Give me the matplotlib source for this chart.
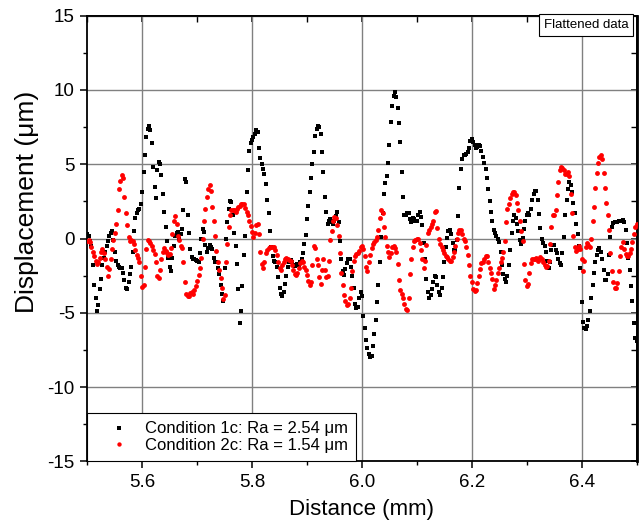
import matplotlib

matplotlib.use("Agg")
import matplotlib.pyplot as plt
import numpy as np
from matplotlib.ticker import MultipleLocator

# sampling positions along the profile (mm), one reading every 0.0025 mm
distance = np.linspace(5.5, 6.5, 401)

# Condition 1c (black squares), displacement in um
cond1 = [
    0.3, 0.2, -0.2, -0.5, -1.8, -3.1, -4.0, -4.9, -4.5, -3.4,
    -2.7, -1.8, -1.3, -0.9, -0.5, -0.2, 0.2, 0.4, 0.5, -0.1,
    -0.9, -1.5, -1.8, -1.9, -1.95, -2.0, -2.3, -2.8, -3.3, -3.4,
    -2.9, -2.4, -1.9, -0.9, 0.5, 1.35, 1.75, 1.9, 2.0, 2.3,
    3.1, 4.5, 5.6, 6.8, 7.4, 7.6, 7.3, 6.4, 4.8, 3.5,
    2.7, 4.6, 5.15, 5.0, 4.3, 3.0, 1.8, 0.8, -0.2, -1.3,
    -1.9, -2.2, -1.3, -0.5, 0.2, 0.35, 0.45, 0.0, 0.3, 0.67,
    1.9, 4.0, 3.8, 1.6, 0.4, -0.7, -1.25, -1.35, -1.4, -1.45,
    -1.5, -1.55, -1.0, 0.0, 0.65, 0.45, -0.45, -0.9, -0.65, -0.45,
    -0.55, -0.7, -1.3, -1.57, -1.6, -2.0, -2.4, -3.1, -3.7, -4.2,
    -2.0, 0.0, 1.1, 2.0, 2.5, 2.45, 1.55, 0.4, -0.5, -1.7,
    -3.4, -5.7, -4.9, -3.2, -1.1, 0.2, 3.1, 4.6, 5.9, 6.45,
    6.6, 6.8, 7.0, 7.3, 7.2, 6.1, 5.4, 5.0, 4.7, 4.35,
    3.7, 2.6, 1.7, 0.5, -0.6, -1.2, -1.5, -1.57, -1.9, -2.6,
    -3.3, -3.75, -3.9, -3.6, -3.05, -2.5, -1.9, -1.55, -1.46, -1.55,
    -1.75, -1.85, -1.8, -1.7, -1.79, -1.6, -1.35, -1.0, -0.4, 0.25,
    1.3, 2.2, 3.1, 4.1, 5.0, 5.85, 6.9, 7.4, 7.6, 7.5,
    7.0, 5.8, 4.5, 2.8, 1.8, 1.0, 1.2, 1.3, 1.1, 1.0,
    1.2, 1.5, 1.8, 1.1, -0.2, -1.4, -2.2, -2.45, -2.05, -1.65,
    -1.4, -1.4, -1.9, -2.5, -3.35, -4.4, -4.65, -4.6, -4.0, -3.6,
    -3.9, -5.2, -6.0, -6.8, -7.4, -7.8, -7.95, -7.9, -7.2, -6.4,
    -5.5, -4.3, -3.1, -1.6, 0.1, 1.7, 3.0, 3.75, 4.2, 5.1,
    6.3, 7.85, 8.9, 9.6, 9.85, 9.5, 8.8, 7.8, 6.5, 4.5,
    2.8, 1.6, 1.6, 1.75, 1.7, 1.3, 1.12, 1.4, 1.3, 1.2,
    1.2, 1.6, 1.8, 1.45, 0.9, -0.3, -1.4, -2.7, -3.6, -4.0,
    -3.8, -3.4, -2.9, -2.5, -2.6, -3.1, -3.6, -3.8, -3.35, -2.6,
    -1.6, -0.6, 0.05, 0.5, 0.55, 0.3, -0.3, -0.8, -0.8, -0.1,
    1.5, 3.4, 4.7, 5.35, 5.6, 5.65, 5.7, 5.8, 6.1, 6.55,
    6.7, 6.5, 6.3, 6.1, 6.15, 6.28, 6.25, 5.9, 5.5, 5.1,
    4.7, 4.1, 3.3, 2.5, 1.8, 1.2, 0.6, 0.35, 0.2, -0.05,
    -0.25, -0.9, -1.75, -2.4, -2.75, -2.9, -2.5, -1.8, -0.8, 0.4,
    1.2, 1.55, 1.4, 1.0, 0.5, -0.1, -0.4, 0.05, 0.65, 1.2,
    1.6, 1.75, 1.6, 2.0, 2.6, 3.0, 3.2, 3.2, 2.6, 1.65,
    0.7, 0.0, -0.3, -0.5, -0.9, -1.5, -1.95, -1.6, -0.8, -0.45,
    -0.45, -0.8, -1.0, -1.35, -1.65, -1.75, -1.0, 0.1, 1.6, 2.6,
    3.3, 3.8, 3.6, 3.1, 2.4, 1.7, 1.0, 0.3, -0.5, -2.0,
    -4.3, -5.6, -6.05, -6.1, -5.9, -5.5, -4.9, -4.0, -3.1, -2.35,
    -1.6, -1.1, -0.8, -0.67, -0.9, -1.4, -2.1, -2.8, -2.8, -2.4,
    -1.1, 0.1, 0.75, 1.05, 1.12, 1.12, 1.12, 1.15, 1.18, 1.2,
    1.22, 1.1, 0.6, -0.3, -1.3, -2.1, -3.2, -4.2, -5.7, -6.7,
    -6.9,
]

# Condition 2c (red circles)
cond2 = [
    -0.2, -0.1, -0.25, -0.55, -0.9, -1.2, -1.5, -1.7, -1.6, -1.3,
    -0.9, -0.7, -0.95, -1.35, -1.9, -2.55, -2.05, -1.4, -0.7, -0.1,
    0.35, 0.95, 1.9, 3.3, 3.85, 4.25, 4.05, 2.8, 1.7, 0.9,
    0.1, -0.2, -0.1, -0.2, -0.4, -0.75, -1.1, -1.3, -1.6, -2.5,
    -3.25, -3.1, -1.9, -0.7, -0.1, -0.2, -0.3, -0.5, -0.8, -1.05,
    -1.55, -2.5, -2.65, -2.1, -1.4, -0.9, -0.67, -0.85, -1.0, -1.12,
    -1.05, -0.65, 0.3, 1.2, 1.5, 1.0, 0.2, -0.1, -0.5, -0.67,
    -1.6, -2.9, -3.7, -3.9, -3.85, -3.65, -3.62, -3.7, -3.48, -3.2,
    -2.85, -2.45, -2.0, -1.3, 0.0, 1.2, 2.0, 2.8, 3.3, 3.6,
    3.2, 2.1, 1.2, 0.2, -0.85, -1.6, -2.15, -2.65, -3.3, -4.1,
    -3.8, -1.6, -0.4, 0.8, 1.6, 1.9, 1.95, 1.9, 1.8, 2.0,
    2.1, 2.2, 2.3, 2.35, 2.3, 2.05, 1.8, 1.55, 1.2, 0.85,
    0.45, 0.1, 0.4, 0.9, 1.0, 0.3, -0.9, -1.7, -2.0, -1.6,
    -1.0, -0.78, -0.67, -0.6, -0.56, -0.56, -0.6, -0.78, -1.1, -1.6,
    -2.0, -2.15, -1.75, -1.57, -1.4, -1.3, -1.35, -1.46, -1.5, -1.75,
    -2.1, -2.4, -2.45, -2.3, -2.0, -1.65, -1.5, -1.6, -1.9, -2.15,
    -2.45, -2.85, -3.1, -2.9, -1.8, -0.5, -0.65, -1.35, -1.8, -2.6,
    -3.05, -2.1, -1.4, -2.1, -2.6, -2.5, -1.5, -0.1, 0.5, 1.15,
    1.46, 1.4, 0.9, 0.2, -1.0, -2.3, -3.1, -3.8, -4.2, -4.45,
    -4.4, -4.0, -3.3, -2.2, -1.5, -1.15, -1.05, -1.0, -0.85, -0.6,
    -0.5, -0.7, -1.2, -1.9, -2.2, -1.6, -1.1, -0.67, -0.35, -0.25,
    -0.1, 0.1, 0.6, 1.4, 1.95, 1.75, 0.8, 0.1, -0.5, -0.9,
    -1.25, -1.0, -0.6, -0.5, -0.67, -0.9, -1.7, -2.8, -3.45, -3.75,
    -4.0, -4.4, -4.75, -4.8, -4.0, -2.4, -1.4, -0.6, -0.2, -0.1,
    0.0, -0.05, -0.3, -0.75, -1.4, -1.95, -1.5, -0.45, 0.35, 0.6,
    0.8, 0.95, 1.15, 1.8, 1.85, 0.7, 0.0, -0.35, -0.55, -0.8,
    -1.0, -1.15, -1.25, -1.35, -1.5, -1.5, -1.25, -0.9, -0.5, -0.05,
    0.35, 0.6, 0.6, 0.3, -0.05, -0.2, -0.6, -1.1, -1.8, -2.5,
    -2.95, -3.4, -3.55, -3.45, -3.0, -2.55, -2.05, -1.65, -1.57, -1.4,
    -1.2, -1.2, -1.6, -2.0, -2.35, -2.7, -3.4, -3.1, -2.8, -2.35,
    -2.0, -1.6, -1.3, -0.9, -0.2, 1.1, 2.0, 2.3, 2.7, 3.0,
    3.14, 3.14, 2.95, 2.4, 1.9, 1.2, 0.5, -0.2, -1.7, -2.8,
    -3.2, -3.05, -2.3, -1.68, -1.4, -1.4, -1.4, -1.3, -1.5, -1.4,
    -1.25, -1.4, -1.6, -1.8, -1.9, -1.85, -1.5, -0.4, 0.8, 1.55,
    1.57, 1.9, 2.9, 3.8, 4.6, 4.8, 4.72, 4.6, 4.35, 4.35,
    4.45, 4.2, 3.0, 1.7, 0.2, -0.6, -0.85, -0.7, -0.5, -0.7,
    -1.4, -2.2, -1.5, -0.55, -0.3, -0.45, -0.55, 0.0, 1.15, 2.1,
    3.4, 4.4, 5.1, 5.5, 5.6, 5.35, 4.4, 3.4, 2.4, 1.55,
    0.6, -1.0, -2.2, -2.95, -3.36, -3.36, -3.0, -2.2, -1.2, -0.55,
    -0.25, -0.7, -1.05, -1.2, -1.2, -1.0, -0.7, -0.25, 0.3, 0.75,
    0.95,
]

labels = ["Condition 1c: Ra = 2.54 \u03bcm", "Condition 2c: Ra = 1.54 \u03bcm"]

plt.rcParams.update(
    {
        "font.family": ["Liberation Sans", "DejaVu Sans"],
        "axes.unicode_minus": False,
        "axes.linewidth": 1.3,
        "xtick.major.width": 1.1,
        "ytick.major.width": 1.1,
        "xtick.minor.width": 1.0,
        "ytick.minor.width": 1.0,
    }
)

fig = plt.figure(figsize=(6.42, 5.31), dpi=100)
ax = fig.add_axes([0.136, 0.131, 0.8555, 0.8396])

ax.plot(distance, cond1, ls="none", marker="s", ms=3.0, color="black",
        mec="black", mew=0, label=labels[0], zorder=3)
ax.plot(distance, cond2, ls="none", marker="o", ms=3.5, color="red",
        mec="red", mew=0, label=labels[1], zorder=4)

ax.set_xlim(5.5, 6.5)
ax.set_ylim(-15, 15)
ax.xaxis.set_major_locator(MultipleLocator(0.2))
ax.xaxis.set_minor_locator(MultipleLocator(0.1))
ax.yaxis.set_major_locator(MultipleLocator(5))
ax.yaxis.set_minor_locator(MultipleLocator(2.5))
ax.set_xticks([5.6, 5.8, 6.0, 6.2, 6.4])
ax.set_xticklabels(["5.6", "5.8", "6.0", "6.2", "6.4"])
ax.grid(True, which="major", color="#808080", linewidth=1.0)
ax.set_axisbelow(True)

ax.tick_params(which="both", direction="out", labelsize=13.5, pad=4)
ax.tick_params(which="major", length=5)
ax.tick_params(which="minor", length=3)

# inward ticks on top and right
top = ax.secondary_xaxis("top")
top.xaxis.set_major_locator(MultipleLocator(0.2))
top.xaxis.set_minor_locator(MultipleLocator(0.1))
top.tick_params(which="both", direction="in", labeltop=False, length=4)
right = ax.secondary_yaxis("right")
right.yaxis.set_major_locator(MultipleLocator(5))
right.yaxis.set_minor_locator(MultipleLocator(2.5))
right.tick_params(which="both", direction="in", labelright=False, length=4)
right.spines["right"].set_linewidth(2.0)

ax.set_xlabel("Distance (mm)", fontsize=16, labelpad=6)
ax.set_ylabel("Displacement (\u03bcm)", fontsize=19)
ax.yaxis.set_label_coords(-0.088, 0.582)

leg = ax.legend(loc="lower left", bbox_to_anchor=(0, 0), borderaxespad=0,
                fontsize=12, frameon=True, fancybox=False, framealpha=1,
                edgecolor="black", handlelength=2.8, handletextpad=0.15,
                borderpad=0.5, labelspacing=0.1, markerscale=0.9)
leg.get_frame().set_linewidth(0.8)
leg.set_zorder(10)

ax.text(0.908, 0.979, "Flattened data", transform=ax.transAxes, fontsize=9.5,
        ha="center", va="center", zorder=12,
        bbox=dict(boxstyle="square,pad=0.35", fc="white", ec="black", lw=0.8))

fig.savefig("out.png", dpi=100)
plt.close(fig)
